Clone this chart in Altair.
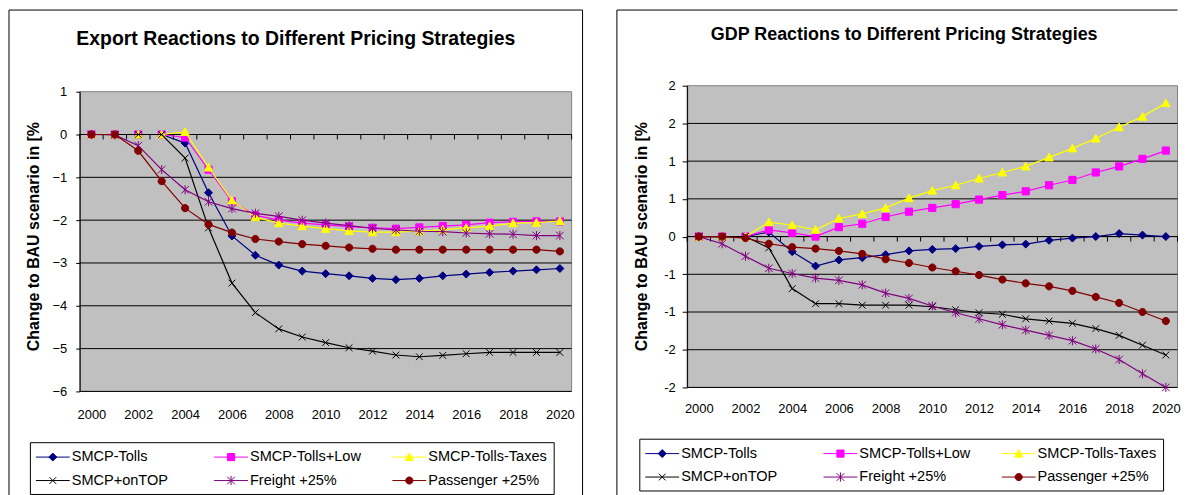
import altair as alt
import pandas as pd

FONT = "Liberation Sans"

# ---------------- data ----------------
YEARS = list(range(2000, 2021))
SERIES = ["SMCP-Tolls", "SMCP-Tolls+Low", "SMCP-Tolls-Taxes",
          "SMCP+onTOP", "Freight +25%", "Passenger +25%"]
COLORS = ["#000080", "#FF00FF", "#FFFF00", "#000000", "#800080", "#800000"]

EXPORT_TOLLS = [0, 0, 0, 0, -0.20, -1.36, -2.37, -2.82, -3.05, -3.19, -3.25,
                -3.30, -3.36, -3.39, -3.36, -3.30, -3.26, -3.22, -3.19, -3.16, -3.13]
EXPORT_TOLLS_LOW = [0, 0, 0, 0, -0.07, -0.82, -1.56, -1.89, -2.00, -2.07, -2.11,
                    -2.15, -2.18, -2.20, -2.17, -2.14, -2.11, -2.06, -2.04, -2.03, -2.03]
EXPORT_TOLLS_TAXES = [0, 0, 0, 0, 0.06, -0.77, -1.54, -1.93, -2.07, -2.14, -2.20,
                      -2.25, -2.28, -2.28, -2.26, -2.22, -2.18, -2.14, -2.07, -2.06, -2.02]
EXPORT_ONTOP = [0, 0, 0, 0, -0.55, -2.18, -3.47, -4.16, -4.54, -4.73, -4.86,
                -4.98, -5.06, -5.15, -5.19, -5.16, -5.12, -5.09, -5.09, -5.09, -5.09]
EXPORT_FREIGHT = [0, -0.01, -0.26, -0.82, -1.29, -1.57, -1.73, -1.84, -1.91, -2.00, -2.07,
                  -2.13, -2.19, -2.23, -2.26, -2.27, -2.30, -2.32, -2.33, -2.36, -2.36]
EXPORT_PASSENGER = [0, 0, -0.38, -1.09, -1.72, -2.10, -2.29, -2.44, -2.50, -2.56, -2.60,
                    -2.64, -2.67, -2.69, -2.69, -2.69, -2.69, -2.69, -2.69, -2.69, -2.73]

GDP_TOLLS = [0, 0, 0, 0.06, -0.20, -0.39, -0.31, -0.28, -0.24, -0.19, -0.17,
             -0.16, -0.13, -0.11, -0.10, -0.05, -0.02, 0.00, 0.04, 0.02, 0.00]
GDP_TOLLS_LOW = [0, 0, 0, 0.09, 0.05, 0.00, 0.125, 0.17, 0.26, 0.33, 0.38,
                 0.43, 0.49, 0.55, 0.60, 0.68, 0.75, 0.85, 0.93, 1.03, 1.14]
GDP_TOLLS_TAXES = [0, 0, 0, 0.19, 0.15, 0.09, 0.24, 0.30, 0.38, 0.51, 0.61,
                   0.68, 0.77, 0.85, 0.93, 1.05, 1.17, 1.30, 1.45, 1.59, 1.77]
GDP_ONTOP = [0, 0, 0, -0.15, -0.69, -0.89, -0.89, -0.91, -0.91, -0.91, -0.93,
             -0.97, -1.01, -1.03, -1.09, -1.12, -1.15, -1.22, -1.31, -1.44, -1.57]
GDP_FREIGHT = [0, -0.095, -0.26, -0.42, -0.49, -0.55, -0.58, -0.64, -0.75, -0.82, -0.92,
               -1.01, -1.09, -1.17, -1.24, -1.31, -1.38, -1.49, -1.63, -1.82, -2.00]
GDP_PASSENGER = [0, 0, -0.02, -0.095, -0.14, -0.16, -0.19, -0.23, -0.30, -0.35, -0.41,
                 -0.46, -0.51, -0.57, -0.62, -0.66, -0.72, -0.80, -0.88, -1.00, -1.12]

X_TICK_LABELS = [2000, 2002, 2004, 2006, 2008, 2010, 2012, 2014, 2016, 2018, 2020]
EXPORT_Y_TICKS = [1, 0, -1, -2, -3, -4, -5, -6]
GDP_Y_TICKS = [2.0, 1.5, 1.0, 0.5, 0.0, -0.5, -1.0, -1.5, -2.0]
GDP_Y_TICK_LABELS = ["2", "2", "1", "1", "0", "-1", "-1", "-2", "-2"]

EXPORT_TITLE = "Export Reactions to Different Pricing Strategies"
GDP_TITLE = "GDP Reactions to Different Pricing Strategies"
Y_TITLE = "Change to BAU scenario in [%"


# ---------------- marker paths ----------------
def f(v):
    return f"{round(v, 4)}"


def diamond(cx, h):
    return f"M{f(cx)},{f(-h)}L{f(cx + h)},0L{f(cx)},{f(h)}L{f(cx - h)},0Z"


def square(cx, h):
    return f"M{f(cx - h)},{f(-h)}L{f(cx + h)},{f(-h)}L{f(cx + h)},{f(h)}L{f(cx - h)},{f(h)}Z"


def triangle(cx, h):
    return f"M{f(cx)},{f(-h)}L{f(cx + h)},{f(0.85 * h)}L{f(cx - h)},{f(0.85 * h)}Z"


def xmark(cx, h):
    return f"M{f(cx - h)},{f(-h)}L{f(cx + h)},{f(h)}M{f(cx - h)},{f(h)}L{f(cx + h)},{f(-h)}"


def asterisk(cx, h):
    return xmark(cx, h) + f"M{f(cx)},{f(-1.2 * h)}L{f(cx)},{f(1.2 * h)}"


def circle(cx, h):
    return (f"M{f(cx + h)},0A{f(h)},{f(h)},0,1,1,{f(cx - h)},0"
            f"A{f(h)},{f(h)},0,1,1,{f(cx + h)},0Z")


SHAPES = [diamond, square, triangle, xmark, asterisk, circle]
MARK_HALF = [1.0, 0.9, 1.05, 0.85, 0.95, 0.9]          # chart markers (unit = 4px)
LEG_HALF = [0.5, 0.45, 0.52, 0.42, 0.48, 0.45]          # legend markers (unit = 8px)
MARKER_PATHS = [s(0, h) for s, h in zip(SHAPES, MARK_HALF)]
LEG_CX = 1.0625
LEGEND_PATHS = ["M-1.0625,0L3.1875,0" + s(LEG_CX, h) for s, h in zip(SHAPES, LEG_HALF)]


def label_expr(ticks, labels):
    expr = "''"
    for t, lab in reversed(list(zip(ticks, labels))):
        expr = f"datum.value == {t} ? '{lab}' : ({expr})"
    return expr


def build_panel(series_values, y_domain, y_ticks, y_labels, plot_w, plot_h, top, g):
    one = pd.DataFrame({"k": [0]})
    x0, x1 = YEARS[0] - 0.5, YEARS[-1] + 0.5
    x_scale = alt.Scale(domain=[x0, x1], nice=False, zero=False)
    y_scale = alt.Scale(domain=y_domain, range=[top + plot_h, top], nice=False, zero=False)
    x_axis = alt.Axis(values=X_TICK_LABELS, tickCount=len(X_TICK_LABELS), format="d",
                      grid=False, domain=False, ticks=False, tickSize=0,
                      labelPadding=g["xpad"], labelFont=FONT, labelFontSize=13,
                      labelColor="black", labelFlush=False, labelOverlap=False, title=None,
                      zindex=1)
    y_axis_kw = dict(values=y_ticks, tickCount=len(y_ticks), grid=False,
                     domainColor="black", domainWidth=1, tickColor="black", tickWidth=1,
                     tickSize=g["ytick"], labelPadding=g["ypad"], labelFont=FONT,
                     labelFontSize=13, labelColor="black", labelFlush=False,
                     labelOverlap=False, title=None, zindex=1)
    if y_labels is None:
        y_axis = alt.Axis(format="d", **y_axis_kw)
    else:
        y_axis = alt.Axis(labelExpr=label_expr(y_ticks, y_labels), **y_axis_kw)
    x_enc = alt.X("year:Q", scale=x_scale, axis=x_axis)
    y_enc = alt.Y("value:Q", scale=y_scale, axis=y_axis)

    layers = []
    # plot area background (spanning the axis extents)
    layers.append(alt.Chart(one).mark_rect(fill="#C0C0C0", stroke="#808080", strokeWidth=1)
                  .encode(x=alt.datum(x0), x2=alt.datum(x1),
                          y=alt.datum(y_domain[0]), y2=alt.datum(y_domain[1])))
    # horizontal gridlines at the tick values (top edge is the plot border)
    grid_df = pd.DataFrame({"value": [v for v in y_ticks if v != max(y_ticks)]})
    layers.append(alt.Chart(grid_df).mark_rule(color="black", strokeWidth=1)
                  .encode(y=y_enc, x=alt.datum(x0), x2=alt.datum(x1)))
    # chart frame
    for fr in g["frame"]:
        layers.append(alt.Chart(one).mark_rule(color="black", strokeWidth=1).encode(**fr))
    if g.get("rect") is not None:
        r = g["rect"]
        layers.append(alt.Chart(one).mark_rect(fillOpacity=0, stroke="black", strokeWidth=1)
                      .encode(x=alt.value(r[0]), x2=alt.value(r[1]),
                              y=alt.value(r[2]), y2=alt.value(r[3])))
    # zero axis line with category ticks
    layers.append(alt.Chart(one).mark_rule(color="black", strokeWidth=1)
                  .encode(y=alt.datum(0), x=alt.datum(x0), x2=alt.datum(x1)))
    bounds = pd.DataFrame({"year": [y - 0.5 for y in YEARS] + [x1]})
    layers.append(alt.Chart(bounds).mark_rule(color="black", strokeWidth=1, y2Offset=5)
                  .encode(x=x_enc, y=alt.datum(0), y2=alt.datum(0)))
    # series
    for s, c, vals, path in zip(SERIES, COLORS, series_values, MARKER_PATHS):
        df = pd.DataFrame({"year": YEARS, "value": vals})
        layers.append(alt.Chart(df).mark_line(color=c, strokeWidth=1.2).encode(x=x_enc, y=y_enc))
        layers.append(alt.Chart(df).mark_point(shape=path, size=64, filled=True, fill=c,
                                               stroke=c, strokeWidth=1, opacity=1)
                      .encode(x=x_enc, y=y_enc))
    # legend (driven by scales over the series names)
    legend = alt.Legend(orient="none", legendX=g["legx"], legendY=g["legy"],
                        direction="horizontal", columns=3, gridAlign="all",
                        columnPadding=21, rowPadding=8, padding=6,
                        strokeColor="black", fillColor="white", cornerRadius=0,
                        symbolSize=256, symbolStrokeWidth=1, symbolOffset=0,
                        labelOffset=19, labelFont=FONT, labelFontSize=14.6,
                        labelColor="black", labelLimit=400, title=None)
    leg_df = pd.DataFrame({"series": SERIES})
    layers.append(alt.Chart(leg_df).mark_point(size=0, filled=True, opacity=1, strokeWidth=1)
                  .encode(shape=alt.Shape("series:N", scale=alt.Scale(domain=SERIES, range=LEGEND_PATHS), legend=legend),
                          fill=alt.Fill("series:N", scale=alt.Scale(domain=SERIES, range=COLORS), legend=legend),
                          stroke=alt.Stroke("series:N", scale=alt.Scale(domain=SERIES, range=COLORS), legend=legend)))
    # titles
    layers.append(alt.Chart(one).mark_text(text=g["title"], font=FONT, fontSize=g["tsize"],
                                           fontWeight="bold", color="black", align="center",
                                           baseline="middle")
                  .encode(x=alt.value(g["tx"]), y=alt.value(g["ty"])))
    layers.append(alt.Chart(one).mark_text(text=Y_TITLE, font=FONT, fontSize=16, angle=270,
                                           fontWeight="bold", color="black", align="center",
                                           baseline="middle")
                  .encode(x=alt.value(g["yx"]), y=alt.value(g["yy"])))
    return alt.layer(*layers).properties(width=plot_w, height=top + plot_h)


# both panels share origin y (page ~83.5); the export plot area starts 6px lower
left = build_panel(
    [EXPORT_TOLLS, EXPORT_TOLLS_LOW, EXPORT_TOLLS_TAXES, EXPORT_ONTOP, EXPORT_FREIGHT, EXPORT_PASSENGER],
    [-6, 1], EXPORT_Y_TICKS, None, 494, 301, 6,
    dict(xpad=17, ytick=4, ypad=9, frame=[], rect=(-71, 505, -76, 413),
         legx=-50, legy=358, title=EXPORT_TITLE, tsize=19.5, tx=217, ty=-46.5,
         yx=-46, yy=151.5))

right = build_panel(
    [GDP_TOLLS, GDP_TOLLS_LOW, GDP_TOLLS_TAXES, GDP_ONTOP, GDP_FREIGHT, GDP_PASSENGER],
    [-2, 2], GDP_Y_TICKS, GDP_Y_TICK_LABELS, 492.5, 303, 0,
    dict(xpad=15, ytick=5, ypad=7,
         frame=[dict(x=alt.value(-70.5), y=alt.value(-76), y2=alt.value(412)),
                dict(x=alt.value(-70.5), x2=alt.value(492.5), y=alt.value(-76))],
         rect=None, legx=-48, legy=354.5, title=GDP_TITLE, tsize=18, tx=218, ty=-50.5,
         yx=-45, yy=151.5))

chart = (alt.hconcat(left, right, spacing=32)
         .resolve_scale(fill="independent", stroke="independent", shape="independent")
         .properties(padding=0, background="white")
         .configure_view(stroke="transparent"))

chart.save("out.html", embed_options={"renderer": "svg", "actions": False})
